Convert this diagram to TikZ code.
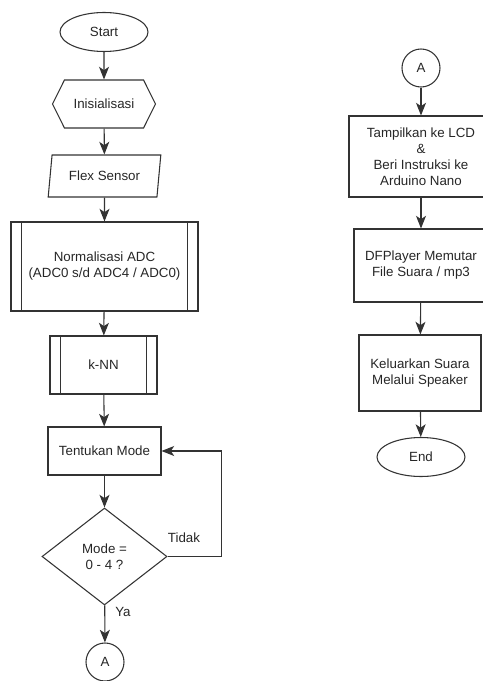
\documentclass[tikz,border=0pt]{standalone}
\usepackage{fontspec}
\setmainfont{Liberation Sans}
\usetikzlibrary{shapes.geometric,shapes.symbols,arrows.meta,calc}

\begin{document}
\begin{tikzpicture}[x=0.75pt,y=-0.75pt,font=\fontsize{10}{12}\selectfont,text=black!85,
  flowline/.style={draw=black!80,line width=0.8pt},
  arr/.style={flowline,-{Stealth[length=9.5pt,width=7.5pt,inset=2.5pt]}},
  term/.style={ellipse,flowline,minimum width=66pt,minimum height=29.25pt,inner sep=0pt},
  box/.style={rectangle,flowline,align=center,inner sep=0pt},
  conn/.style={circle,flowline,minimum size=28.5pt,inner sep=0pt}]
\useasboundingbox (0,0) rectangle (482,681);
% kolom kiri
\node[term] (start) at (104,32) {Start};
\node[signal,signal to=west and east,signal pointer angle=127,flowline,minimum width=77.25pt,minimum height=36pt,inner sep=0pt] (init) at (104,104) {Inisialisasi};
\node[trapezium,trapezium left angle=75,trapezium right angle=105,trapezium stretches=true,flowline,minimum width=84.75pt,minimum height=31.5pt,inner sep=0pt] (flex) at (104.5,176) {Flex Sensor};
\node[box,minimum width=140.25pt,minimum height=66.75pt] (norm) at (104.5,266.5) {Normalisasi ADC\\(ADC0 s/d ADC4 / ADC0)};
\draw[flowline] ($(norm.north west)+(11,0)$) -- ($(norm.south west)+(11,0)$);
\draw[flowline] ($(norm.north east)+(-11,0)$) -- ($(norm.south east)+(-11,0)$);
\node[box,minimum width=80.25pt,minimum height=43.5pt] (knn) at (103.5,365) {k-NN};
\draw[flowline] ($(knn.north west)+(11,0)$) -- ($(knn.south west)+(11,0)$);
\draw[flowline] ($(knn.north east)+(-11,0)$) -- ($(knn.south east)+(-11,0)$);
\node[box,minimum width=84.75pt,minimum height=36pt] (mode) at (104.5,451) {Tentukan Mode};
\node[diamond,flowline,align=center,minimum width=93.75pt,minimum height=72.75pt,inner sep=0pt] (dec) at (104.5,556.5) {Mode =\\0 - 4 ?};
\node[conn] (ca) at (105,662) {A};
\draw[arr] (start) -- (init);
\draw[arr] (init) -- (flex);
\draw[arr] (flex) -- (norm);
\draw[arr] (norm) -- (knn);
\draw[arr] (knn) -- (mode);
\draw[arr] (mode) -- (dec);
\draw[arr] (dec.east) -- ++(54,0) |- (mode.east);
\draw[arr] (dec) -- (ca);
\node (tidak) at (184,538) {Tidak};
\node (ya) at (123,612) {Ya};
% kolom kanan
\node[conn] (cb) at (421,68) {A};
\node[box,minimum width=108pt,minimum height=60.75pt] (show) at (421,156.5) {Tampilkan ke LCD\\\&\\Beri Instruksi ke\\Arduino Nano};
\node[box,minimum width=100.5pt,minimum height=54.75pt] (play) at (421,265.5) {DFPlayer Memutar\\File Suara / mp3};
\node[box,minimum width=91.5pt,minimum height=57pt] (out) at (420,373) {Keluarkan Suara\\Melalui Speaker};
\node[term] (end) at (421,457) {End};
\draw[arr] (cb) -- (show);
\draw[arr] (show) -- (play);
\draw[arr] (play) -- (out);
\draw[arr] (out) -- (end);
\end{tikzpicture}
\end{document}
